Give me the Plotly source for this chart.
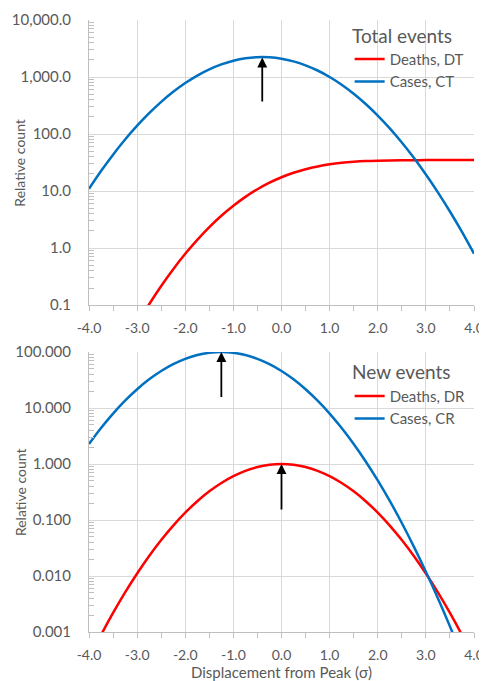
import math
import plotly.graph_objects as go

# ---------------- data ----------------
x_vals = [-4.0, -3.75, -3.5, -3.25, -3.0, -2.75, -2.5, -2.25, -2.0, -1.75, -1.5, -1.25,
          -1.0, -0.75, -0.5, -0.25, 0.0, 0.25, 0.5, 0.75, 1.0, 1.25, 1.5, 1.75,
          2.0, 2.25, 2.5, 2.75, 3.0, 3.25, 3.5, 3.75, 4.0]

# Total events
deaths_DT = [0.0011, 0.0031, 0.0081, 0.0202, 0.0473, 0.104, 0.217, 0.428, 0.796, 1.40, 2.34, 3.70,
             5.55, 7.93, 10.8, 14.05, 17.5, 20.95, 24.2, 27.07, 29.45, 31.3, 32.66, 33.6,
             34.2, 34.57, 34.78, 34.9, 34.95, 34.98, 34.99, 35.0, 35.0]
cases_CT = [11.0, 22.5, 43.6, 80.2, 140.2, 232.8, 367.3, 550.6, 784.2, 1061, 1363, 1665,
            1932, 2129, 2230, 2218, 2097, 1883, 1606, 1302, 1003, 733.6, 509.8, 336.6,
            211.2, 125.9, 71.3, 38.4, 19.6, 9.52, 4.39, 1.93, 0.80]

# New events
deaths_DR = [0.000335, 0.000884, 0.00219, 0.00509, 0.0111, 0.0228, 0.0439, 0.0796, 0.1353, 0.2163, 0.3247, 0.4578,
             0.6065, 0.7548, 0.8825, 0.9692, 1.0, 0.9692, 0.8825, 0.7548, 0.6065, 0.4578, 0.3247, 0.2163,
             0.1353, 0.0796, 0.0439, 0.0228, 0.0111, 0.00509, 0.00219, 0.000884, 0.000335]
cases_CR = [2.28, 4.39, 7.96, 13.53, 21.6, 32.5, 45.8, 60.7, 75.5, 88.2, 96.9, 100.0,
            96.9, 88.2, 75.5, 60.7, 45.8, 32.5, 21.6, 13.53, 7.96, 4.39, 2.28, 1.111,
            0.509, 0.219, 0.0884, 0.0335, 0.01195, 0.00401, 0.00126, 0.000373, 0.000104]

# peak-marker arrows: x position, tail value, head value
arrow_top_x = [-0.4]
arrow_top_tail = [350]
arrow_top_head = [2200]
arrow_bot_x = [-1.25, 0.0]
arrow_bot_tail = [14.8, 0.145]
arrow_bot_head = [100.0, 1.0]

x_tickvals = [-4, -3, -2, -1, 0, 1, 2, 3, 4]
x_ticktext = ["-4.0", "-3.0", "-2.0", "-1.0", "0.0", "1.0", "2.0", "3.0", "4.0"]
top_tickvals = [0.1, 1, 10, 100, 1000, 10000]
top_ticktext = ["0.1", "1.0", "10.0", "100.0", "1,000.0", "10,000.0"]
bot_tickvals = [0.001, 0.01, 0.1, 1, 10, 100]
bot_ticktext = ["0.001", "0.010", "0.100", "1.000", "10.000", "100.000"]
legend_titles = ["Total events", "New events"]
y_title = "Relative count"
x_title = "Displacement from Peak (σ)"


def minor_vals(decades):
    out = []
    for d in decades[:-1]:
        out.extend([d * m for m in range(2, 10)])
    return out


RED = "#ff0000"
BLUE = "#0070c0"
GRID = "#d9d9d9"
AXIS = "#bfbfbf"
TXT = "#595959"
FONT = "Lato, 'Open Sans', sans-serif"

TOP_DOMAIN = [0.534, 1.0]
BOT_DOMAIN = [0.0, 0.4575]

fig = go.Figure()
fig.add_trace(go.Scatter(x=x_vals, y=deaths_DT, mode="lines", name="Deaths, DT",
                         line=dict(color=RED, width=2.5, shape="spline"),
                         xaxis="x", yaxis="y", legend="legend"))
fig.add_trace(go.Scatter(x=x_vals, y=cases_CT, mode="lines", name="Cases, CT",
                         line=dict(color=BLUE, width=2.5, shape="spline"),
                         xaxis="x", yaxis="y", legend="legend"))
fig.add_trace(go.Scatter(x=x_vals, y=deaths_DR, mode="lines", name="Deaths, DR",
                         line=dict(color=RED, width=2.5, shape="spline"),
                         xaxis="x2", yaxis="y2", legend="legend2"))
fig.add_trace(go.Scatter(x=x_vals, y=cases_CR, mode="lines", name="Cases, CR",
                         line=dict(color=BLUE, width=2.5, shape="spline"),
                         xaxis="x2", yaxis="y2", legend="legend2"))

xaxis_common = dict(range=[-4, 4], tickvals=x_tickvals, ticktext=x_ticktext,
                    showgrid=True, gridcolor=GRID, gridwidth=1,
                    showline=True, linecolor=AXIS, linewidth=1,
                    ticks="outside", ticklen=5, tickcolor=AXIS, ticklabelstandoff=5,
                    minor=dict(dtick=0.5, tick0=0, ticks="outside", ticklen=5, tickcolor=AXIS, showgrid=False),
                    tickfont=dict(family=FONT, size=14, color=TXT),
                    zeroline=False, fixedrange=True, automargin=False)
yaxis_common = dict(type="log", showgrid=True, gridcolor=GRID, gridwidth=1,
                    showline=True, linecolor=AXIS, linewidth=1,
                    ticks="", ticklabelstandoff=14,
                    tickfont=dict(family=FONT, size=15, color=TXT),
                    zeroline=False, fixedrange=True, automargin=False)

# the page body adds an 8 px margin, so the figure is drawn 8 px smaller
fig.update_layout(
    width=479, height=673,
    margin=dict(l=81, r=13, t=12, b=49),
    paper_bgcolor="white", plot_bgcolor="white",
    font=dict(family=FONT, color=TXT),
    xaxis=dict(**xaxis_common, anchor="y", domain=[0, 1]),
    yaxis=dict(**yaxis_common, anchor="x", domain=TOP_DOMAIN,
               range=[math.log10(top_tickvals[0]), math.log10(top_tickvals[-1])],
               tickvals=top_tickvals, ticktext=top_ticktext,
               minor=dict(tickvals=minor_vals(top_tickvals), ticks="inside", ticklen=5,
                          tickcolor=AXIS, showgrid=False)),
    xaxis2=dict(**xaxis_common, anchor="y2", domain=[0, 1],
                title=dict(text=x_title, font=dict(family=FONT, size=15, color=TXT), standoff=2)),
    yaxis2=dict(**yaxis_common, anchor="x2", domain=BOT_DOMAIN,
                range=[math.log10(bot_tickvals[0]), math.log10(bot_tickvals[-1])],
                tickvals=bot_tickvals, ticktext=bot_ticktext,
                minor=dict(tickvals=minor_vals(bot_tickvals), ticks="inside", ticklen=5,
                           tickcolor=AXIS, showgrid=False)),
    legend=dict(x=0.677, y=0.963, xanchor="left", yanchor="top", bgcolor="rgba(0,0,0,0)",
                font=dict(family=FONT, size=15, color=TXT), tracegroupgap=0, itemwidth=30),
    legend2=dict(x=0.677, y=0.412, xanchor="left", yanchor="top", bgcolor="rgba(0,0,0,0)",
                 font=dict(family=FONT, size=15, color=TXT), tracegroupgap=0, itemwidth=30),
    showlegend=True,
)

annotations = []
for ax_x, tail, head in zip(arrow_top_x, arrow_top_tail, arrow_top_head):
    annotations.append(dict(x=ax_x, y=math.log10(head), ax=ax_x, ay=math.log10(tail),
                            xref="x", yref="y", axref="x", ayref="y", text="",
                            showarrow=True, arrowhead=2, arrowsize=1.1, arrowwidth=1.8,
                            arrowcolor="black", standoff=0))
for ax_x, tail, head in zip(arrow_bot_x, arrow_bot_tail, arrow_bot_head):
    annotations.append(dict(x=ax_x, y=math.log10(head), ax=ax_x, ay=math.log10(tail),
                            xref="x2", yref="y2", axref="x2", ayref="y2", text="",
                            showarrow=True, arrowhead=2, arrowsize=1.1, arrowwidth=1.8,
                            arrowcolor="black", standoff=0))
for title, ty in zip(legend_titles, [0.974, 0.425]):
    annotations.append(dict(x=0.677, y=ty, xref="paper", yref="paper", xanchor="left", yanchor="middle",
                            text=title, showarrow=False,
                            font=dict(family=FONT, size=19, color=TXT)))
for dom in (TOP_DOMAIN, BOT_DOMAIN):
    annotations.append(dict(x=-0.179, y=(dom[0] + dom[1]) / 2, xref="paper", yref="paper",
                            xanchor="center", yanchor="middle", textangle=-90,
                            text=y_title, showarrow=False,
                            font=dict(family=FONT, size=14, color=TXT)))
fig.update_layout(annotations=annotations)

fig.write_html("out.html")
